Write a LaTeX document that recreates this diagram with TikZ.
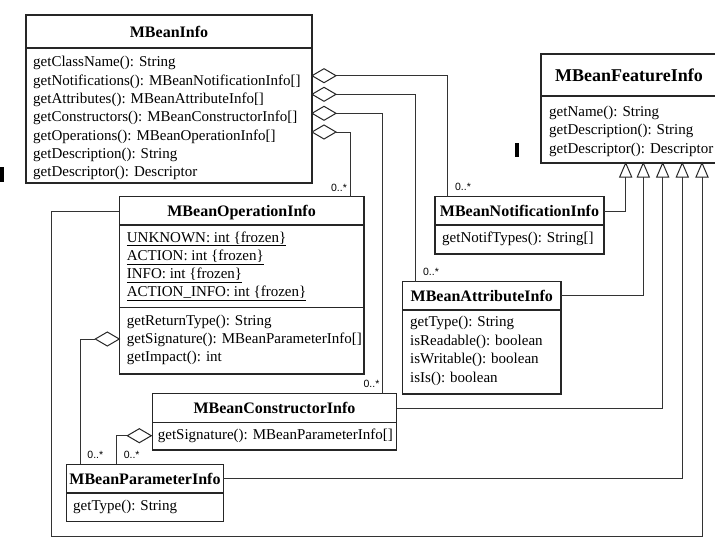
\documentclass[tikz,border=0pt]{standalone}
\usepackage{fontspec}
\setmainfont{Liberation Serif}
\newfontfamily\labfont{Liberation Sans}
\usetikzlibrary{calc}
\begin{document}
\begin{tikzpicture}[x=1pt,y=-1pt,
  box/.style={draw=black!85, line width=1.1pt, rectangle, anchor=north west, inner sep=0pt, outer sep=0pt},
  sep/.style={draw=black!85, line width=1.1pt},
  conn/.style={draw=black!80, line width=1pt},
  ttl/.style={font=\fontsize{16}{18}\selectfont\bfseries, inner sep=0pt, text height=11pt, text depth=0pt},
  bigttl/.style={font=\fontsize{18}{20}\selectfont\bfseries, inner sep=0pt, text height=12.4pt, text depth=0pt},
  body/.style={font=\fontsize{15}{18}\selectfont, inner sep=0pt, anchor=base west},
  mult/.style={font=\labfont\fontsize{10.5}{12}\selectfont, inner sep=0pt},
  agg/.style={draw=black!85, fill=white, line width=1pt},
  aggdia/.pic={\draw[agg] (0,0) -- (12,-7) -- (24,0) -- (12,7) -- cycle;},
  inhtri/.pic={\draw[agg] (0,0) -- (6,14) -- (-6,14) -- cycle;},
]
\useasboundingbox (0,0) rectangle (715,550);

% ---------- boxes ----------
\node[box, minimum width=286pt, minimum height=168pt] (info) at (26,15) {};
\node[box, minimum width=180pt, minimum height=109pt] (feat) at (541,54) {};
\node[box, minimum width=169pt, minimum height=57.3pt] (notif) at (435,196.7) {};
\node[box, minimum width=158.3pt, minimum height=112.5pt] (attr) at (402.7,281.5) {};
\node[box, minimum width=244.7pt, minimum height=177.3pt] (oper) at (119.3,196.7) {};
\node[box, minimum width=244.4pt, minimum height=56.3pt] (cons) at (152.3,393.7) {};
\node[box, minimum width=156.6pt, minimum height=57.5pt] (param) at (66.7,464.3) {};

% separators
\draw[sep] (26,48) -- (312,48);
\draw[sep] (541,96) -- (716,96);
\draw[sep] (435,225) -- (604,225);
\draw[sep] (402.7,310) -- (561,310);
\draw[sep] (119.3,225) -- (364,225);
\draw[sep] (119.3,307.7) -- (364,307.7);
\draw[sep] (152.3,422.3) -- (396.7,422.3);
\draw[sep] (66.7,493) -- (223.3,493);

% ---------- titles ----------
\node[ttl] (infoT) at (169,31.5) {MBeanInfo};
\node[bigttl] (featT) at (629,75) {MBeanFeatureInfo};
\node[ttl] (notifT) at (519.5,211) {MBeanNotificationInfo};
\node[ttl] (attrT) at (481.8,295.7) {MBeanAttributeInfo};
\node[ttl] (operT) at (241.6,211) {MBeanOperationInfo};
\node[ttl] (consT) at (274.5,408) {MBeanConstructorInfo};
\node[ttl] (paramT) at (145,478.7) {MBeanParameterInfo};

% ---------- body texts ----------
\node[body] (i1) at (33,66.8) {getClassName(): String};
\node[body] (i2) at (33,85.1) {getNotifications(): MBeanNotificationInfo[]};
\node[body] (i3) at (33,103.4) {getAttributes(): MBeanAttributeInfo[]};
\node[body] (i4) at (33,121.7) {getConstructors(): MBeanConstructorInfo[]};
\node[body] (i5) at (33,140) {getOperations(): MBeanOperationInfo[]};
\node[body] (i6) at (33,158.3) {getDescription(): String};
\node[body] (i7) at (33,176.6) {getDescriptor(): Descriptor};

\node[body] (f1) at (549,116.5) {getName(): String};
\node[body] (f2) at (549,134.8) {getDescription(): String};
\node[body] (f3) at (549,153.1) {getDescriptor(): Descriptor};

\node[body] (n1) at (442,242.5) {getNotifTypes(): String[]};

\node[body] (a1) at (410,326.5) {getType(): String};
\node[body] (a2) at (410,345) {isReadable(): boolean};
\node[body] (a3) at (410,363.5) {isWritable(): boolean};
\node[body] (a4) at (410,382) {isIs(): boolean};

\node[body] (o1) at (126.7,242) {\underline{UNKNOWN: int \{frozen\}}};
\node[body] (o2) at (126.7,260.3) {\underline{ACTION: int \{frozen\}}};
\node[body] (o3) at (126.7,278.6) {\underline{INFO: int \{frozen\}}};
\node[body] (o4) at (126.7,296.9) {\underline{ACTION\_INFO: int \{frozen\}}};
\node[body] (o5) at (126.7,325.3) {getReturnType(): String};
\node[body] (o6) at (126.7,343.6) {getSignature(): MBeanParameterInfo[]};
\node[body] (o7) at (126.7,361.9) {getImpact(): int};

\node[body] (c1) at (157.7,439.8) {getSignature(): MBeanParameterInfo[]};

\node[body] (p1) at (73,510.5) {getType(): String};

% ---------- aggregations ----------
\coordinate (d1) at (312,75.7);
\coordinate (d2) at (312,94.3);
\coordinate (d3) at (312,113.3);
\coordinate (d4) at (312,132);
\coordinate (d5) at (95.3,339);
\coordinate (d6) at (127.3,435.7);

\draw[conn] ($(d1)+(24,0)$) -| ($(notif.north west)+(12.3,0)$);
\draw[conn] ($(d2)+(24,0)$) -| ($(attr.north west)+(12.6,0)$);
\draw[conn] ($(d3)+(24,0)$) -| ($(cons.north east)+(-14,0)$);
\draw[conn] ($(d4)+(24,0)$) -| ($(oper.north east)+(-13.3,0)$);
\draw[conn] (d5) -| ($(param.north west)+(13.3,0)$);
\draw[conn] (d6) -| ($(param.north west)+(50,0)$);

\pic at (d1) {aggdia};
\pic at (d2) {aggdia};
\pic at (d3) {aggdia};
\pic at (d4) {aggdia};
\pic at (d5) {aggdia};
\pic at (d6) {aggdia};

% multiplicities
\node[mult] (m1) at (463,187) {0..*};
\node[mult] (m2) at (431,271.5) {0..*};
\node[mult] (m3) at (339,187.5) {0..*};
\node[mult] (m4) at (371.5,384) {0..*};
\node[mult] (m5) at (95.3,455) {0..*};
\node[mult] (m6) at (131.7,455) {0..*};

% ---------- generalizations ----------
\coordinate (t1) at (625.7,163);
\coordinate (t2) at (643.3,163);
\coordinate (t3) at (662.7,163);
\coordinate (t4) at (682.3,163);
\coordinate (t5) at (702,163);

\draw[conn] ($(t1)+(0,14)$) |- (notifT -| notif.east);
\draw[conn] ($(t2)+(0,14)$) |- (attrT -| attr.east);
\draw[conn] ($(t3)+(0,14)$) |- (consT -| cons.east);
\draw[conn] ($(t4)+(0,14)$) |- (paramT -| param.east);
\draw[conn] ($(t5)+(0,14)$) -- (702,536.7) -- (51.7,536.7) -- (51.7,211) -- (operT -| oper.west);

\pic at (t1) {inhtri};
\pic at (t2) {inhtri};
\pic at (t3) {inhtri};
\pic at (t4) {inhtri};
\pic at (t5) {inhtri};

% stray marks
\fill[black] (0,166.7) rectangle (3.5,181.7);
\fill[black] (515,143.3) rectangle (519,157.3);
\end{tikzpicture}
\end{document}
